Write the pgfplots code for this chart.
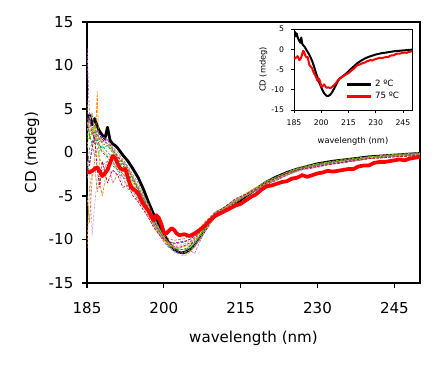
\documentclass[border=0pt]{standalone}
\usepackage{pgfplots}
\pgfplotsset{compat=1.18}
\usepackage{pgfplotstable}
\usepackage{fontspec}
\setmainfont{DejaVu Sans}
% intermediate temperatures (thin dashed curves)
\pgfplotstableread{
x      a     b     c     d     e     f     g     h     i     j     k     l     n     o     p
185    2.0  12.0  -3.0   1.5 -11.0   0.5   3.0  -1.0   4.0  -5.0   6.0   2.5  -2.0   3.5   0.0
185.5  4.5   4.0  -1.0   3.5  -4.0   2.5   4.0  -2.0   2.0  -8.0   1.5   3.5   0.5   2.8  -1.5
186    3.0   2.0   0.5   4.5  -2.5   3.0   2.0  -9.5   1.0  -3.0   2.5   4.6   1.0   2.0   0.5
186.5  1.0   3.0   2.0   2.0  -1.0   1.5   2.5  -6.0   2.5  -1.5   3.2   2.0  -0.5   3.0   1.8
187    2.5   1.5   1.0   1.0   7.0  -0.5   2.0  -3.0   1.5  -4.5   2.0   1.0   0.5   1.5  -2.0
187.5  2.0   1.2   0.2   0.8  -3.5   0.0   1.5  -2.5   0.8  -3.0   1.6   0.5  -0.8   1.8  -4.0
188    1.5   1.8   0.8   0.5  -5.0   0.5   1.2  -2.0   0.0  -2.5   1.0   0.2  -1.5   1.2  -1.0
189    1.0   1.5   0.0   0.8  -1.5  -0.5   1.5  -1.5  -0.5  -1.0   0.8  -0.3  -1.0   1.0  -3.5
190    0.5   0.6  -0.5   0.0  -1.0  -0.2   0.3  -1.0  -1.5  -3.5   0.2  -0.8  -1.2   0.4  -2.0
191   -0.5   0.0  -1.2  -0.8  -1.8  -1.0  -0.5  -2.2  -2.0  -2.5  -0.6  -1.3  -1.8  -0.3  -2.6
192   -1.0  -0.8  -1.5  -1.5  -2.4  -2.0  -1.2  -3.5  -2.8  -2.8  -1.3  -2.0  -2.5  -1.0  -4.0
193   -1.8  -1.6  -2.3  -2.5  -3.0  -3.0  -2.0  -3.5  -3.3  -4.2  -2.1  -2.7  -3.1  -1.9  -3.8
194   -3.0  -2.6  -3.3  -3.3  -3.8  -3.5  -3.0  -4.5  -4.2  -4.5  -3.0  -3.5  -3.9  -2.8  -5.0
195   -4.0  -3.5  -4.3  -4.3  -4.8  -4.8  -4.2  -5.6  -5.2  -5.5  -4.0  -4.5  -4.9  -3.9  -5.7
196   -5.0  -4.8  -5.3  -5.5  -5.9  -6.0  -5.3  -6.2  -6.0  -6.3  -5.1  -5.6  -5.9  -5.0  -6.6
197   -6.5  -6.0  -6.6  -6.6  -7.0  -7.2  -6.5  -7.2  -7.0  -7.3  -6.3  -6.8  -7.0  -6.2  -7.5
198   -7.8  -7.4  -7.8  -7.9  -8.2  -8.3  -7.7  -8.4  -8.2  -8.1  -7.6  -8.0  -8.3  -7.5  -8.6
199   -9.0  -8.6  -8.9  -9.0  -9.1  -9.3  -8.8  -9.2  -9.0  -8.8  -8.7  -9.1  -9.3  -8.7  -9.4
200  -10.0  -9.6  -9.8 -10.0 -10.0 -10.1  -9.7  -9.9  -9.8  -9.5  -9.8 -10.2 -10.3  -9.7 -10.0
201  -10.8 -10.4 -10.5 -10.7 -10.6 -10.6 -10.4 -10.4 -10.2  -9.9 -10.6 -10.9 -10.9 -10.5 -10.3
202  -11.3 -10.9 -11.0 -11.0 -10.8 -10.9 -10.8 -10.6 -10.5 -10.1 -11.1 -11.3 -11.4 -10.9 -10.4
203  -11.6 -11.3 -11.1 -11.2 -11.0 -10.9 -10.9 -10.7 -10.4 -10.0 -11.4 -11.7 -11.6 -11.1 -10.3
204  -11.4 -11.5 -11.2 -11.1 -10.8 -10.8 -10.7 -10.5 -10.3  -9.9 -11.5 -11.9 -11.7 -11.2 -10.2
205  -10.8 -11.2 -11.0 -10.8 -10.6 -10.5 -10.4 -10.2 -10.0  -9.6 -11.2 -11.5 -11.4 -11.0 -10.0
206  -10.0 -11.6 -10.5 -10.2 -10.0 -10.0  -9.8  -9.7  -9.5  -9.2 -10.7 -10.9 -10.8 -10.4  -9.6
207   -9.2 -10.3  -9.6  -9.5  -9.3  -9.3  -9.1  -9.0  -8.9  -8.7  -9.9 -10.0  -9.9  -9.6  -9.0
208   -8.5  -9.0  -8.7  -8.6  -8.5  -8.4  -8.3  -8.3  -8.2  -8.0  -9.0  -9.1  -8.9  -8.8  -8.3
209   -7.9  -8.1  -7.9  -7.8  -7.8  -7.7  -7.6  -7.6  -7.5  -7.4  -8.1  -8.2  -8.0  -8.0  -7.6
210   -7.3  -7.4  -7.2  -7.1  -7.1  -7.0  -7.0  -6.9  -6.9  -6.8  -7.3  -7.4  -7.2  -7.2  -7.0
212   -6.4  -6.6  -6.3  -6.4  -6.2  -6.3  -6.5  -6.2  -6.3  -6.3  -6.6  -6.5  -6.4  -6.3  -6.2
214   -5.6  -5.7  -5.5  -5.6  -5.4  -5.5  -5.6  -5.4  -5.5  -5.5  -5.8  -5.7  -5.6  -5.5  -5.3
216   -4.9  -5.0  -4.8  -4.9  -4.7  -5.0  -4.8  -4.9  -5.0  -4.9  -5.0  -4.8  -4.9  -4.7  -4.8
218   -4.2  -4.3  -4.1  -4.2  -4.0  -4.3  -4.1  -4.2  -4.4  -4.2  -4.3  -4.1  -4.3  -4.0  -4.2
220   -3.6  -3.5  -3.5  -3.4  -3.6  -3.6  -3.7  -3.5  -3.7  -3.6  -3.4  -3.5  -3.6  -3.3  -3.5
222   -3.0  -2.9  -3.0  -2.8  -3.1  -3.0  -3.2  -2.9  -3.1  -3.1  -2.9  -3.0  -3.0  -2.8  -2.9
224   -2.5  -2.4  -2.6  -2.3  -2.6  -2.6  -2.6  -2.5  -2.6  -2.5  -2.4  -2.5  -2.6  -2.3  -2.4
226   -2.0  -1.9  -2.2  -1.9  -2.1  -2.2  -2.0  -2.2  -2.1  -1.9  -2.0  -1.9  -2.1  -1.8  -2.0
228   -1.7  -1.6  -1.8  -1.6  -1.8  -1.7  -1.9  -1.8  -1.6  -1.7  -1.6  -1.8  -1.7  -1.5  -1.8
230   -1.5  -1.4  -1.6  -1.4  -1.6  -1.4  -1.7  -1.5  -1.4  -1.5  -1.3  -1.6  -1.5  -1.3  -1.6
232   -1.3  -1.2  -1.3  -1.2  -1.4  -1.2  -1.4  -1.3  -1.2  -1.3  -1.1  -1.4  -1.3  -1.1  -1.4
235   -1.0  -1.0  -1.1  -0.9  -1.1  -1.0  -1.2  -1.0  -0.9  -1.1  -0.9  -1.0  -1.1  -0.8  -1.1
238   -0.8  -0.7  -0.9  -0.7  -0.9  -0.8  -0.9  -0.8  -0.7  -0.9  -0.7  -0.8  -0.9  -0.6  -0.8
240   -0.6  -0.6  -0.7  -0.5  -0.7  -0.6  -0.7  -0.6  -0.5  -0.7  -0.5  -0.6  -0.7  -0.5  -0.7
243   -0.5  -0.4  -0.5  -0.4  -0.6  -0.5  -0.5  -0.4  -0.4  -0.6  -0.4  -0.5  -0.5  -0.3  -0.6
245   -0.4  -0.3  -0.4  -0.3  -0.5  -0.4  -0.4  -0.3  -0.3  -0.5  -0.3  -0.4  -0.4  -0.2  -0.5
248   -0.3  -0.2  -0.3  -0.2  -0.4  -0.3  -0.3  -0.2  -0.2  -0.4  -0.2  -0.3  -0.3  -0.1  -0.4
250   -0.2  -0.1  -0.2  -0.1  -0.3  -0.2  -0.2  -0.1  -0.1  -0.3  -0.1  -0.2  -0.2   0.0  -0.3
}\cloud
% 2 C
\pgfplotstableread{
x y
185 3.8
185.5 4.3
186 3.2
186.5 3.9
187 3.0
187.5 2.4
188 2.0
188.5 1.6
189 2.9
189.5 1.4
190 1.0
190.5 0.8
191 0.5
191.5 0.1
192 -0.3
193 -1.0
194 -1.9
195 -2.9
196 -4.2
197 -5.7
198 -7.1
199 -8.3
200 -9.4
201 -10.4
202 -11.1
203 -11.5
204 -11.5
205 -11.2
206 -10.6
207 -9.8
208 -8.9
209 -8.0
210 -7.3
212 -6.6
214 -5.9
216 -5.0
218 -4.2
220 -3.4
222 -2.8
224 -2.3
226 -1.9
228 -1.6
230 -1.3
233 -1.0
236 -0.8
240 -0.5
245 -0.3
250 -0.1
}\cold
% 75 C
\pgfplotstableread{
x y
185 -2.2
185.5 -2.3
186 -2.1
186.5 -1.9
187 -1.7
187.5 -2.2
188 -2.7
188.5 -2.4
189 -2.0
189.5 -1.2
190 -0.4
190.5 -0.6
191 -1.3
191.5 -1.8
192 -2.0
192.5 -1.9
193 -2.9
193.5 -3.9
194 -4.2
194.5 -4.4
195 -4.7
195.5 -5.4
196 -5.9
196.5 -6.3
197 -6.7
197.5 -7.3
198 -7.8
198.5 -7.2
199 -7.5
199.5 -8.2
200 -9.2
200.5 -9.3
201 -9.0
201.5 -8.7
202 -8.9
202.5 -9.3
203 -9.5
204 -9.4
205 -9.6
206 -9.3
207 -8.9
208 -8.4
209 -7.8
210 -7.3
211 -7.0
212 -6.7
213 -6.4
214 -6.1
215 -5.9
216 -5.5
217 -5.1
218 -4.8
219 -4.3
220 -3.9
221 -3.8
222 -3.6
223 -3.4
224 -3.3
225 -3.0
226 -2.9
227 -2.6
228 -2.8
229 -2.6
230 -2.4
231 -2.3
232 -2.1
233 -2.2
234 -2.1
235 -2.0
236 -1.9
237 -1.9
238 -1.6
239 -1.5
240 -1.5
241 -1.2
242 -1.1
243 -1.1
244 -1.0
245 -0.9
246 -0.8
247 -0.9
248 -0.7
249 -0.6
250 -0.5
}\hot
\begin{document}
\begin{tikzpicture}
\path[use as bounding box] (-65.25pt,-64.5pt) rectangle (268.5pt,212.25pt);
\begin{axis}[
  at={(0pt,0pt)}, anchor=south west,
  scale only axis, width=249.75pt, height=195.75pt,
  xmin=185, xmax=250, ymin=-15, ymax=15,
  xtick={185,200,215,230,245}, ytick={-15,-10,...,15},
  tick align=outside, xtick pos=bottom, ytick pos=left,
  major tick length=3.7pt,
  axis line style={line width=0.8pt},
  tick style={line width=0.8pt, black},
  /pgf/number format/assume math mode=true,
  ticklabel style={font=\fontsize{11.3}{13}\selectfont},
  xticklabel style={yshift=-7pt},
  yticklabel style={xshift=-3pt},
  label style={font=\fontsize{11.3}{13}\selectfont},
  xlabel={wavelength (nm)}, ylabel={CD (mdeg)},
  xlabel style={at={(axis description cs:0.5,-0.213)}, anchor=center},
  ylabel style={at={(axis description cs:-0.165,0.5)}, anchor=center},
  every axis plot/.append style={line join=round},
  cl/.style={line width=0.5pt, dash pattern=on 2pt off 1pt},
]
\addplot[black, line width=2.1pt] table{\cold};
\addplot[blue, cl] table[x=x,y=a]{\cloud};
\addplot[violet!60, cl] table[x=x,y=b]{\cloud};
\addplot[cyan, cl] table[x=x,y=c]{\cloud};
\addplot[green!70!black, cl] table[x=x,y=d]{\cloud};
\addplot[orange, cl] table[x=x,y=e]{\cloud};
\addplot[yellow!85!orange, cl] table[x=x,y=f]{\cloud};
\addplot[magenta, cl] table[x=x,y=g]{\cloud};
\addplot[violet!35, cl] table[x=x,y=h]{\cloud};
\addplot[teal, cl] table[x=x,y=i]{\cloud};
\addplot[brown, cl] table[x=x,y=j]{\cloud};
\addplot[olive, cl] table[x=x,y=k]{\cloud};
\addplot[pink!80!red, cl] table[x=x,y=l]{\cloud};
\addplot[gray, cl] table[x=x,y=n]{\cloud};
\addplot[lime!80!black, cl] table[x=x,y=o]{\cloud};
\addplot[purple, cl] table[x=x,y=p]{\cloud};
\addplot[red, line width=2.8pt] table{\hot};
\end{axis}
\begin{axis}[
  at={(155.25pt,129.75pt)}, anchor=south west,
  scale only axis, width=88.5pt, height=60.75pt,
  xmin=185, xmax=250, ymin=-15, ymax=5,
  xtick={185,200,215,230,245}, ytick={-15,-10,...,5},
  tick align=outside, xtick pos=bottom, ytick pos=left,
  major tick length=2pt,
  axis background/.style={fill=white},
  axis line style={line width=0.6pt},
  tick style={line width=0.6pt, black},
  /pgf/number format/assume math mode=true,
  ticklabel style={font=\fontsize{5.8}{6.5}\selectfont},
  xticklabel style={yshift=-2pt},
  yticklabel style={xshift=-2pt},
  label style={font=\fontsize{6.2}{7}\selectfont},
  xlabel={wavelength (nm)}, ylabel={CD (mdeg)},
  xlabel style={at={(axis description cs:0.5,-0.38)}, anchor=center},
  ylabel style={at={(axis description cs:-0.26,0.5)}, anchor=center},
  legend style={draw=none, fill=none, at={(0.42,0.06)}, anchor=south west,
    font=\fontsize{6.5}{7.5}\selectfont, row sep=-1pt, inner sep=1pt},
  legend image code/.code={\draw[#1, line width=2.4pt] (0pt,0pt) -- (18pt,0pt);},
  legend cell align=left,
  every axis plot/.append style={line join=round},
]
\addplot[black, line width=1.5pt] table{\cold};
\addplot[red, line width=1.5pt] table{\hot};
\legend{2 ºC, 75 ºC}
\end{axis}
\end{tikzpicture}
\end{document}
